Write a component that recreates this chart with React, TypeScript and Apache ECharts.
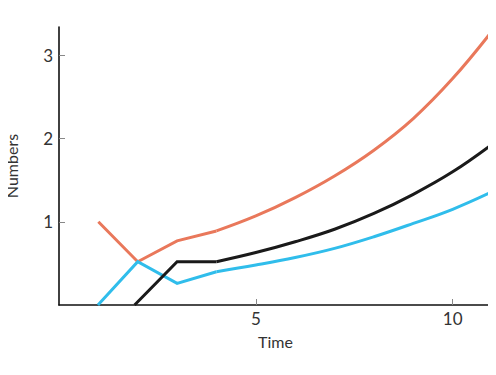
import React, { useEffect, useRef } from "react";
import * as echarts from "echarts";

const orangeEarlyX = [1, 2, 3, 4];
const orangeEarly = [1.0, 0.52, 0.77, 0.89];
const blackEarlyX = [1.92, 3, 4];
const blackEarly = [0.0, 0.52, 0.52];
const blueEarlyX = [0.99, 2, 3, 4];
const blueEarly = [0.0, 0.52, 0.26, 0.4];

const lateX = [4, 5, 6, 7, 8, 9, 10, 11];
const orangeLate = [0.89, 1.07, 1.29, 1.55, 1.86, 2.24, 2.72, 3.29];
const blackLate = [0.52, 0.63, 0.76, 0.91, 1.1, 1.33, 1.6, 1.93];
const blueLate = [0.4, 0.48, 0.57, 0.68, 0.82, 0.98, 1.15, 1.36];

const xTicks = [5, 10];
const yTicks = [1, 2, 3];

const ORANGE = "#E9785B";
const BLACK = "#1a1a1a";
const BLUE = "#30BDEB";

function pairs(xs: number[], ys: number[]) {
  return xs.map((x, i) => [x, ys[i]]);
}

export default function App() {
  const ref = useRef<HTMLDivElement>(null);
  useEffect(() => {
    if (!ref.current) return;
    const chart = echarts.init(ref.current, undefined, { renderer: "svg" });
    const font = "Lato, 'Open Sans', sans-serif";
    const textColor = "#333";
    const lineSeries = (data: any[], color: string, smooth: boolean) => ({
      type: "line",
      data,
      smooth: smooth ? 0.4 : false,
      showSymbol: false,
      symbol: "none",
      lineStyle: { color, width: 3, cap: "butt", join: "miter" },
      z: color === BLACK ? 3 : 2,
    });
    chart.setOption({
      animation: false,
      backgroundColor: "#ffffff",
      grid: {
        left: 59,
        right: 4,
        top: 27,
        bottom: 70,
        containLabel: false,
        outerBoundsMode: "none",
      },
      xAxis: {
        type: "value",
        min: 0,
        max: 11,
        interval: 5,
        name: "Time",
        nameLocation: "middle",
        nameGap: 28,
        nameTextStyle: { fontFamily: font, fontSize: 16, color: textColor },
        axisLine: { show: true, lineStyle: { color: "#111", width: 1.6 } },
        axisTick: {
          show: true,
          inside: true,
          length: 6,
          lineStyle: { color: "#888", width: 1 },
          customValues: xTicks,
        },
        axisLabel: {
          fontFamily: font,
          fontSize: 17,
          color: textColor,
          margin: 5,
          customValues: xTicks,
        },
        splitLine: { show: false },
      },
      yAxis: {
        type: "value",
        min: 0,
        max: 3.34,
        interval: 1,
        name: "Numbers",
        nameLocation: "middle",
        nameGap: 40,
        nameTextStyle: { fontFamily: font, fontSize: 16, color: textColor },
        axisLine: { show: true, lineStyle: { color: "#111", width: 1.6 } },
        axisTick: {
          show: true,
          inside: true,
          length: 6,
          lineStyle: { color: "#888", width: 1 },
          customValues: yTicks,
        },
        axisLabel: {
          fontFamily: font,
          fontSize: 17,
          color: textColor,
          margin: 6,
          customValues: yTicks,
        },
        splitLine: { show: false },
      },
      series: [
        lineSeries(pairs(orangeEarlyX, orangeEarly), ORANGE, false),
        lineSeries(pairs(lateX, orangeLate), ORANGE, true),
        lineSeries(pairs(blueEarlyX, blueEarly), BLUE, false),
        lineSeries(pairs(lateX, blueLate), BLUE, true),
        lineSeries(pairs(blackEarlyX, blackEarly), BLACK, false),
        lineSeries(pairs(lateX, blackLate), BLACK, true),
      ],
    });
    return () => chart.dispose();
  }, []);
  return <div ref={ref} style={{ width: 496, height: 375, margin: -8 }} />;
}
